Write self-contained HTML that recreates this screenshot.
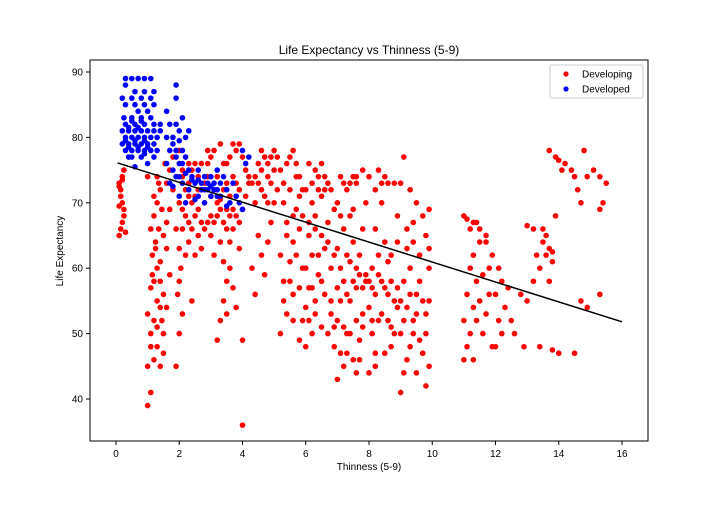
<!DOCTYPE html>
<html><head><meta charset="utf-8"><style>
body{margin:0;background:#fff;width:720px;height:504px;overflow:hidden;font-family:"Liberation Sans","DejaVu Sans",sans-serif}
</style></head><body>
<svg id="chart" width="720" height="504" font-family="Liberation Sans, DejaVu Sans, sans-serif">
<rect x="0" y="0" width="720" height="504" fill="#fff"/>
<g id="marks"></g>
<g id="axes"></g>
</svg>
<script>
const xTicks=[0,2,4,6,8,10,12,14,16];
const yTicks=[40,50,60,70,80,90];
const regLine=[[0.05,76.1],[16,51.8]];
const developing=[
[0.1,65],[0.15,66],[0.2,67],[0.25,69],[0.2,70],[0.15,72],[0.1,73],[0.2,74],[0.25,75],[0.3,65.5],[0.1,72.5],[0.25,68],[0.15,71],[0.2,73.5],[0.1,69.5],
[1,39],[1.1,41],[1.0,45],[1.2,46],[1.3,48],[1.1,50],[1.2,52],[1.0,53],[1.3,55],[1.1,57],[1.2,58],[1.3,60],[1.15,62],[1.25,64],[1.1,66],[1.2,68],[1.3,70],[1.4,72],[1.0,74],[1.4,45],[1.5,47],[1.45,52],[1.5,56],[1.4,61],[1.5,65],[1.45,69],[1.35,73],[1.6,67],[1.7,75],[1.55,76],
[1.15,59],[1.25,63],[1.35,66],[1.2,71],[1.3,74],[1.4,58],[1.5,50],[1.6,54],[1.7,59],[1.6,63],[1.7,69],[1.8,72],[1.6,73],[1.8,77],[1.4,54],[1.1,48],[1.3,51],
[1.9,45],[2.0,50],[2.1,53],[1.95,56],[2.05,60],[2.0,63],[2.1,66],[2.2,68],[2.0,70],[2.2,72],[2.1,74],[2.3,76],[2.0,78],[2.4,55],[2.5,62],[2.6,65],[2.7,67],[2.5,68],[2.8,70],[2.6,72],[2.9,74],[2.7,76],[2.9,78],[2.3,64],[2.4,70],[2.6,69],[2.8,66],[3.0,68],
[2.1,75],[2.2,77],[2.3,73],[2.4,75],[2.5,76],[2.6,74],[2.2,62],[2.3,67],[2.4,66],[2.5,71],[2.7,72],[2.8,73],[2.9,76],[3.0,77],[3.0,65],[2.9,67],[2.7,63],[2.0,58],[1.9,66],[2.1,69],[2.3,71],
[3.2,49],[3.3,52],[3.4,55],[3.5,58],[3.1,62],[3.3,64],[3.5,66],[3.6,68],[3.2,70],[3.4,72],[3.7,74],[3.5,76],[3.8,78],[3.9,79],[4.0,36],[4.0,49],[3.8,54],[3.6,60],[3.9,63],[3.7,66],[4.0,69],[3.9,72],[4.1,75],[3.3,79],[3.0,71],
[3.1,67],[3.2,68],[3.3,69],[3.4,67],[3.5,69],[3.6,71],[3.7,69],[3.8,68],[3.9,67],[3.2,74],[3.4,76],[3.6,77],[3.1,78],[3.7,79],[3.5,73],[3.8,73],[3.6,64],[3.4,61],[3.7,57],[3.5,53],[3.3,70.5],[4.1,71],[4.2,74],[4.3,73],[4.0,77],
[4.3,60],[4.5,65],[4.4,70],[4.6,72],[4.8,74],[4.5,76],[4.9,77],[5.0,78],[4.7,59],[4.2,73],[4.8,70],[4.9,67],
[4.4,74],[4.6,75],[4.7,77],[4.8,76],[4.5,73],[4.7,71],[4.9,73],[5.0,75],[4.6,78],[4.4,56],[4.6,62],[4.8,64],[5.0,70],
[5.2,50],[5.4,53],[5.3,55],[5.5,58],[5.2,62],[5.4,65],[5.6,68],[5.3,70],[5.5,72],[5.7,74],[5.4,76],[5.6,78],[5.8,66],[5.9,60],[5.9,52],[5.1,72],[5.8,71],
[5.1,77],[5.2,75],[5.3,73],[5.5,77],[5.7,76],[5.8,74],[5.9,72],[5.6,64],[5.7,62],[5.5,61],[5.8,57],[5.6,56],[5.4,67],[5.7,69],[5.9,68],[5.3,58],[5.6,52],[5.8,49],
[6.0,48],[6.2,50],[6.1,52],[6.3,55],[6.2,57],[6.0,60],[6.4,62],[6.1,65],[6.3,68],[6.2,70],[6.0,72],[6.4,74],[6.1,76],[6.5,58],[6.6,63],[6.7,67],[6.8,53],[6.9,51],[6.6,72],[6.5,76],[6.8,60],[6.9,69],
[6.2,73],[6.3,75],[6.4,72],[6.5,71],[6.6,74],[6.7,73],[6.8,72],[6.1,67],[6.3,66],[6.5,65],[6.7,64],[6.9,62],[6.2,62],[6.4,59],[6.6,56],[6.8,55],[6.3,53],[6.5,51],[6.7,50],[6.9,48],[6.0,54],[6.1,57],
[7.0,43],[7.2,45],[7.1,47],[7.3,50],[7.0,52],[7.4,55],[7.2,58],[7.1,60],[7.3,62],[7.5,64],[7.2,66],[7.4,68],[7.0,70],[7.3,72],[7.5,74],[7.6,44],[7.7,49],[7.8,53],[7.6,57],[7.9,59],[7.7,62],[7.8,66],[7.9,70],[7.6,73],[7.8,75],
[7.1,74],[7.2,73],[7.4,73],[7.6,74],[7.0,57],[7.1,55],[7.3,56],[7.5,58],[7.7,59],[7.9,58],[7.2,51],[7.4,50],[7.6,52],[7.8,51],[7.3,47],[7.5,46],[7.7,46],[7.0,63],[7.4,61],[7.6,60],[7.8,57],[7.1,68],[7.5,69],
[8.0,44],[8.2,47],[8.1,50],[8.3,52],[8.0,54],[8.2,56],[8.4,58],[8.1,60],[8.3,62],[8.5,64],[8.2,66],[8.4,70],[8.6,73],[8.3,75],[8.7,48],[8.8,55],[8.9,57],[8.6,61],[8.7,51],[8.9,68],[8.5,74],
[8.0,58],[8.1,57],[8.3,59],[8.5,57],[8.6,56],[8.7,58],[8.9,54],[8.0,74],[8.2,72],[8.4,73],[8.8,73],[8.1,52],[8.4,53],[8.6,52],[8.8,50],[8.2,45],[8.5,47],[8.7,62],[8.9,64],
[9.0,41],[9.1,44],[9.2,46],[9.3,48],[9.0,50],[9.4,52],[9.2,54],[9.5,56],[9.1,58],[9.3,60],[9.6,62],[9.4,64],[9.2,66],[9.7,68],[9.5,70],[9.3,72],[9.8,42],[9.9,45],[9.7,47],[9.8,53],[9.9,55],[9.6,58],[9.9,60],[9.8,65],[9.9,69],[9.1,77],
[9.0,55],[9.1,52],[9.3,56],[9.5,53],[9.7,55],[9.4,50],[9.6,49],[9.2,63],[9.4,67],[9.0,73],[9.5,44],[9.8,50],[9.9,63],
[11.0,46],[11.1,48],[11.2,50],[11.0,52],[11.3,54],[11.1,56],[11.4,58],[11.2,60],[11.3,62],[11.5,64],[11.2,66],[11.0,68],[11.6,50],[11.7,53],[11.8,56],[11.6,59],[11.9,62],[11.7,65],[11.9,48],[11.4,67],[11.3,46],
[11.1,67.5],[11.3,67],[11.5,66],[11.7,64],[11.8,60],[11.5,55],[11.4,52],
[12.0,48],[12.2,50],[12.1,52],[12.3,54],[12.0,56],[12.2,58],[12.1,60],[12.5,52],[12.6,50],[12.8,56],[12.4,57],[12.9,48],
[13.0,55],[13.2,58],[13.4,60],[13.3,62],[13.5,64],[13.2,66],[13.0,66.5],[13.6,62],[13.8,61],[13.7,58],[13.4,48],[13.9,68],
[13.6,65],[13.7,63],[13.5,66],[13.8,62.5],
[13.7,78],[13.9,77],[14.0,76.5],[14.2,76],[14.4,75],[14.5,74],[14.6,72],[14.7,70],[14.8,78],[14.1,75],
[14.9,74],[15.1,75],[15.3,74],[15.5,73],[15.4,70],[15.3,69],[15.3,56],[14.9,54],[14.0,47],[14.5,47],[13.8,47.5],[14.7,55]
];
const developed=[
[0.3,89],[0.5,89],[0.7,89],[0.9,89],[1.1,89],[0.3,88],[0.6,87],[0.9,87],[1.2,87],[0.2,86],[0.5,86],[0.8,86],[1.1,86],[0.3,85],[0.6,85],[0.9,85],[1.2,85],[0.25,83],[0.5,83],[0.8,83],[1.1,83],[0.3,82],[0.6,82],[0.9,82],[1.2,82],[1.4,82],
[0.2,81],[0.4,81],[0.6,81],[0.8,81],[1.0,81],[1.2,81],[1.4,81],[0.3,80],[0.5,80],[0.7,80],[0.9,80],[1.1,80],[1.3,80],[0.2,79],[0.4,79],[0.6,79],[0.8,79],[1.0,79],[1.2,79],[0.3,78],[0.5,78],[0.7,78],[0.9,78],[1.1,78],[0.4,77],[0.8,77],[1.0,76],[0.6,75.5],
[0.4,81.5],[0.7,81.5],[0.5,82.5],[0.8,82.5],[0.3,79.5],[0.6,79.5],[0.9,79.5],[0.4,78.5],[0.7,78.5],[1.0,78.5],[0.5,77],[0.9,77.5],[1.3,78],[1.2,77],[0.7,84],[1.0,84],
[1.6,84],[1.9,88],[1.9,86],[1.7,82],[1.9,82],[2.1,83],[1.6,80],[1.8,80],[2.0,81],[1.7,78],[1.9,77],[2.1,78],[1.6,76],[1.8,75],[2.0,76],[2.2,77],[1.7,73],[1.9,74],[2.1,73],[2.3,75],[2.0,71],[2.2,70],[2.4,74],[2.5,73],[2.3,72],
[1.8,79],[2.0,79.5],[2.2,80],[2.3,81],[1.9,78],[2.1,76],[2.2,74.5],[2.4,73.5],[2.0,74],[1.8,72.5],
[2.6,75],[2.7,73],[2.8,74],[2.9,72],[3.0,71],[3.1,73],[3.2,72],[3.3,71],[3.4,74],[3.5,72],[3.6,70],[3.7,73],[3.8,71],[3.9,70],[4.0,69],[4.2,77],[4.1,76],[4.0,78],[2.6,71],[2.8,70],[3.0,74],[3.2,75],[2.5,70.5],[3.5,69.5],
[2.7,72],[2.9,73],[3.1,72],[3.3,73],[2.6,73.5],[2.8,72],[3.0,72.5],[3.2,71]
];
const SVGNS="http://www.w3.org/2000/svg";
const L=90,R=648,T=60,B=441;
const xS=v=>116+(v-0)*(622-116)/16;
const yS=v=>399+(v-40)*(72-399)/50;
const marks=document.getElementById('marks');
const axes=document.getElementById('axes');
function mk(tag,attrs,parent){const e=document.createElementNS(SVGNS,tag);for(const k in attrs)e.setAttribute(k,attrs[k]);parent.appendChild(e);return e;}
developing.forEach(p=>{
 const c=mk('circle',{cx:xS(p[0]),cy:yS(p[1]),r:2.8,fill:'#ff0000'},marks);
 
 
});
developed.forEach(p=>{
 const c=mk('circle',{cx:xS(p[0]),cy:yS(p[1]),r:2.8,fill:'#0000ff'},marks);
 
 
});
const rl=mk('line',{x1:xS(regLine[0][0]),y1:yS(regLine[0][1]),x2:xS(regLine[1][0]),y2:yS(regLine[1][1]),stroke:'#000','stroke-width':1.5},marks);


const fr=mk('rect',{x:L,y:T,width:R-L,height:B-T,fill:'none',stroke:'#000','stroke-width':1},axes);


xTicks.forEach(t=>{
 const x=xS(t);
 mk('line',{x1:x,y1:B,x2:x,y2:B+4,stroke:'#000'},axes);
 const tx=mk('text',{x:x,y:B+16,'font-size':10,'text-anchor':'middle',fill:'#000'},axes);
 tx.textContent=t;
 
 
});
yTicks.forEach(t=>{
 const y=yS(t);
 mk('line',{x1:L-4,y1:y,x2:L,y2:y,stroke:'#000'},axes);
 const tx=mk('text',{x:L-7,y:y+3.5,'font-size':10,'text-anchor':'end',fill:'#000'},axes);
 tx.textContent=t;
 
 
});
</script>
<svg width="720" height="504" style="position:absolute;left:0;top:0" font-family="Liberation Sans, DejaVu Sans, sans-serif">
<text x="369" y="54" font-size="12" text-anchor="middle">Life Expectancy vs Thinness (5-9)</text>
<text x="369" y="470" font-size="10" text-anchor="middle">Thinness (5-9)</text>
<text x="63" y="251" font-size="10" text-anchor="middle" transform="rotate(-90 63 251)">Life Expectancy</text>
<g>
<rect x="550" y="65" width="93" height="33" rx="2" fill="#fff" stroke="#ccc"/>
<circle cx="566" cy="74" r="2.6" fill="#ff0000"/>
<text x="582" y="77.5" font-size="10">Developing</text>
<circle cx="566" cy="89" r="2.6" fill="#0000ff"/>
<text x="582" y="92.5" font-size="10">Developed</text>
</g>
</svg>
</body></html>
